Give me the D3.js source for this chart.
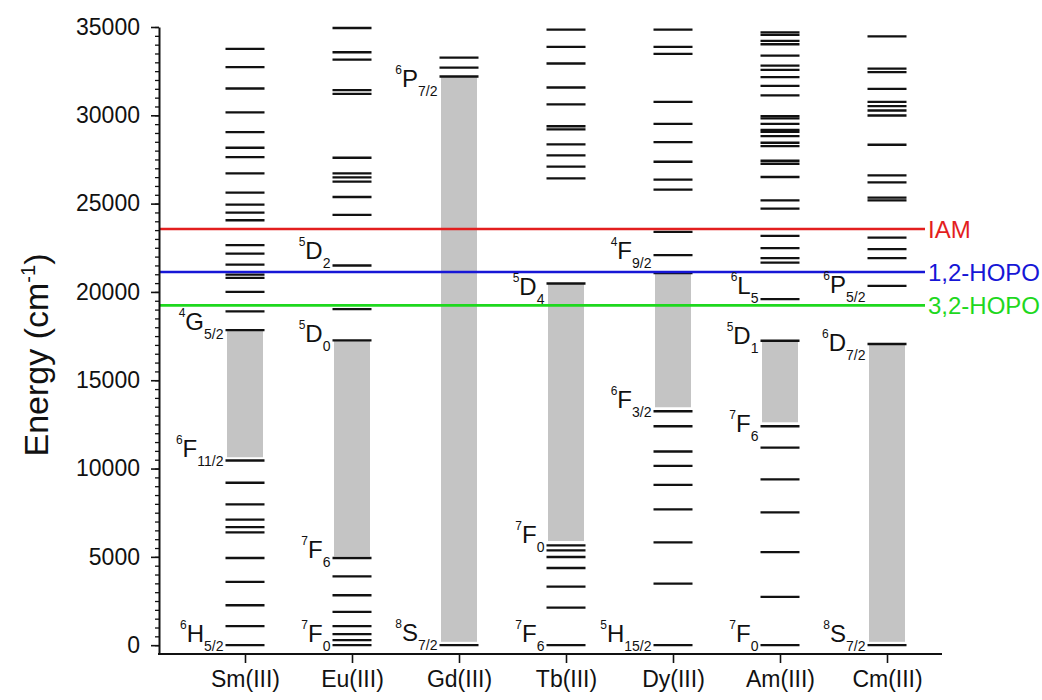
<!DOCTYPE html>
<html>
<head>
<meta charset="utf-8">
<script src="https://cdn.jsdelivr.net/npm/d3@7"></script>
<style>
  body { margin: 0; background: #fff; }
  text { font-family: "Liberation Sans", Arial, sans-serif; }
</style>
</head>
<body>
<svg id="chart"></svg>
<script>
// ions along the x axis
const ions = ["Sm(III)", "Eu(III)", "Gd(III)", "Tb(III)", "Dy(III)", "Am(III)", "Cm(III)"];

// energy levels (cm-1)
const smLevels = [0, 1074, 2261, 3580, 4936, 6386, 6688, 7104, 7969, 9195, 10455, 17842, 18895, 20007, 20798, 20985, 21551, 22174, 22646, 24058, 24490, 24942, 25620, 26715, 27636, 28163, 29049, 30161, 31518, 32723, 33757];
const euLevels = [0, 283, 622, 1074, 1884, 2826, 3900, 4936, 17260, 19030, 21495, 24360, 25376, 26244, 26489, 26715, 27597, 31214, 31422, 33157, 33571, 34944];
const gdLevels = [0, 32197, 32702, 33266];
const tbLevels = [0, 2130, 3316, 4370, 4992, 5369, 5652, 20476, 26432, 27090, 27733, 28355, 29200, 29380, 30614, 31575, 32932, 33870, 34852];
const dyLevels = [0, 3485, 5821, 7686, 9080, 10154, 10964, 12395, 13243, 21064, 22081, 23397, 25788, 26353, 27370, 28484, 29518, 30761, 33474, 33870, 34852];
const amLevels = [0, 2730, 5273, 7517, 9382, 11190, 12395, 17237, 19594, 21662, 21910, 22475, 23171, 24715, 25189, 26506, 27258, 27427, 28258, 28445, 28823, 29066, 29179, 29518, 29822, 29953, 31124, 31666, 32158, 32571, 32818, 33383, 34023, 34210, 34549, 34701];
const cmLevels = [0, 17051, 20346, 21910, 22420, 23075, 25189, 25336, 26206, 26602, 28332, 29990, 30273, 30518, 30761, 31497, 32440, 32646, 34474];
const allLevels = [smLevels, euLevels, gdLevels, tbLevels, dyLevels, amLevels, cmLevels];

// grey gap bands (low, high) per ion
const gapLow  = [10640, 5030, 190, 5900, 13470, 12620, 190];
const gapHigh = [17842, 17260, 32197, 20476, 21064, 17237, 17051];

// ligand reference energies
const refNames = ["IAM", "1,2-HOPO", "3,2-HOPO"];
const refEnergies = [23560, 21125, 19240];
const refColors = ["#e31e1e", "#1616d6", "#1ed81e"];

// term symbol labels: ion, multiplicity, letter, J, energy of label baseline
const labelIon  = ["Sm(III)", "Sm(III)", "Sm(III)", "Eu(III)", "Eu(III)", "Eu(III)", "Eu(III)", "Gd(III)", "Gd(III)", "Tb(III)", "Tb(III)", "Tb(III)", "Dy(III)", "Dy(III)", "Dy(III)", "Am(III)", "Am(III)", "Am(III)", "Am(III)", "Cm(III)", "Cm(III)", "Cm(III)"];
const labelMult = ["4", "6", "6", "5", "5", "7", "7", "6", "8", "5", "7", "7", "4", "6", "5", "6", "5", "7", "7", "6", "6", "8"];
const labelTerm = ["G", "F", "H", "D", "D", "F", "F", "P", "S", "D", "F", "F", "F", "F", "H", "L", "D", "F", "F", "P", "D", "S"];
const labelJ    = ["5/2", "11/2", "5/2", "2", "0", "6", "0", "7/2", "7/2", "4", "0", "6", "9/2", "3/2", "15/2", "5", "1", "6", "0", "5/2", "7/2", "7/2"];
const labelE    = [17860, 10642, 186, 21889, 17141, 4934, 186, 31610, 243, 19820, 5782, 186, 21855, 13434, 186, 19877, 17051, 12055, 186, 19967, 16672, 186];

const svg = d3.select("#chart").attr("width", 1042).attr("height", 700);

const x = d3.scalePoint().domain(ions).range([245, 887]);
const y = d3.scaleLinear().domain([-500, 35000]).range([654, 27]);

const half = 19.5;   // half length of a level line
const gapHalf = 18;

// grey bands
svg.append("g")
  .selectAll("rect")
  .data(ions)
  .join("rect")
    .attr("x", d => x(d) - gapHalf)
    .attr("width", gapHalf * 2)
    .attr("y", (d, i) => y(gapHigh[i]))
    .attr("height", (d, i) => y(gapLow[i]) - y(gapHigh[i]))
    .attr("fill", "#c4c4c4");

// energy levels
ions.forEach((ion, i) => {
  svg.append("g")
    .selectAll("line")
    .data(allLevels[i])
    .join("line")
      .attr("x1", x(ion) - half)
      .attr("x2", x(ion) + half)
      .attr("y1", d => y(d))
      .attr("y2", d => y(d))
      .attr("stroke", "#111")
      .attr("stroke-width", 2.3);
});

// ligand lines
const refG = svg.append("g");
refG.selectAll("line")
  .data(refEnergies)
  .join("line")
    .attr("x1", 159)
    .attr("x2", 925)
    .attr("y1", d => y(d))
    .attr("y2", d => y(d))
    .attr("stroke", (d, i) => refColors[i])
    .attr("stroke-width", 2.6);
refG.selectAll("text")
  .data(refEnergies)
  .join("text")
    .attr("x", 928)
    .attr("y", d => y(d))
    .attr("dy", "0.36em")
    .attr("fill", (d, i) => refColors[i])
    .style("font-size", "24px")
    .text((d, i) => refNames[i]);

// term labels
const lab = svg.append("g")
  .selectAll("text")
  .data(labelE)
  .join("text")
    .attr("x", (d, i) => x(labelIon[i]) - half - 2)
    .attr("y", d => y(d))
    .attr("text-anchor", "end")
    .attr("fill", "#111");
lab.append("tspan")
  .attr("dy", -13)
  .style("font-size", "12px")
  .text((d, i) => labelMult[i]);
lab.append("tspan")
  .attr("dy", 13)
  .style("font-size", "24px")
  .text((d, i) => labelTerm[i]);
lab.append("tspan")
  .attr("dy", 9)
  .style("font-size", "14px")
  .text((d, i) => labelJ[i]);

// y axis
svg.append("g")
  .attr("transform", "translate(159,0)")
  .call(d3.axisLeft(y).tickValues(d3.range(0, 35001, 500)).tickSize(4).tickFormat(""))
  .call(g => g.select(".domain").remove())
  .call(g => g.selectAll("line").attr("stroke", "#111").attr("stroke-width", 1.3));
svg.append("g")
  .attr("transform", "translate(159,0)")
  .call(d3.axisLeft(y).tickValues(d3.range(0, 35001, 5000)).tickSize(8).tickSizeOuter(0).tickPadding(11).tickFormat(d3.format("d")))
  .call(g => g.select(".domain").attr("stroke", "#111").attr("stroke-width", 2))
  .call(g => g.selectAll("line").attr("stroke", "#111").attr("stroke-width", 1.6))
  .call(g => g.selectAll("text").style("font-size", "23px").attr("fill", "#111").style("font-family", "'Liberation Sans', Arial, sans-serif"));

// x axis
const xg = svg.append("g")
  .attr("transform", "translate(0,654)")
  .call(d3.axisBottom(x).tickSize(9).tickPadding(8))
  .call(g => g.select(".domain").remove())
  .call(g => g.selectAll("line").attr("stroke", "#111").attr("stroke-width", 1.6))
  .call(g => g.selectAll("text").style("font-size", "23px").attr("fill", "#111").style("font-family", "'Liberation Sans', Arial, sans-serif"));
xg.append("line")
  .attr("x1", 158)
  .attr("x2", 942)
  .attr("stroke", "#111")
  .attr("stroke-width", 2);

// y title
const yt = svg.append("text")
  .attr("transform", "translate(48,355) rotate(-90)")
  .attr("text-anchor", "middle")
  .attr("fill", "#111")
  .style("font-size", "34px");
yt.append("tspan").text("Energy (cm");
yt.append("tspan").attr("dy", -13).style("font-size", "20px").text("-1");
yt.append("tspan").attr("dy", 13).text(")");
</script>
</body>
</html>
